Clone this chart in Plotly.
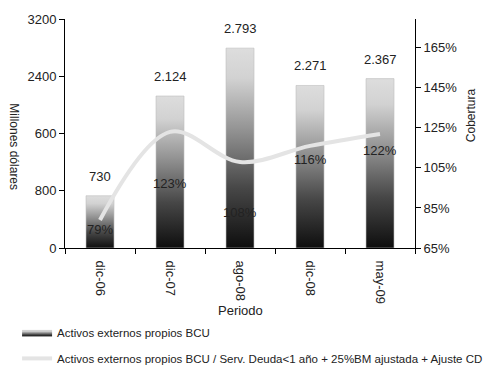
import plotly.graph_objects as go

# Data
periodos = ["dic-06", "dic-07", "ago-08", "dic-08", "may-09"]
activos = [730, 2124, 2793, 2271, 2367]            # millones de dólares
activos_txt = ["730", "2.124", "2.793", "2.271", "2.367"]
cobertura = [79, 123, 108, 116, 122]               # %
cobertura_txt = ["79%", "123%", "108%", "116%", "122%"]

y_tickvals = [0, 800, 1600, 2400, 3200]
y_ticktext = ["0", "800", "600", "2400", "3200"]
y2_tickvals = [65, 85, 105, 125, 145, 165]
y2_ticktext = ["65%", "85%", "105%", "125%", "145%", "165%"]

# vertical pixel offsets of the coverage labels relative to their value
cob_label_shift = [-10, -52, -51, -14, -17]

FONT = "Liberation Sans Narrow, Arial Narrow, Liberation Sans, sans-serif"
BAR_HALF = 0.2
GRAD = [[0, "#0e0e0e"], [0.3, "#474747"], [0.6, "#959595"],
        [0.85, "#d2d2d2"], [1, "#dddddd"]]

fig = go.Figure()

# gradient-filled bars
for i, v in enumerate(activos):
    fig.add_trace(go.Scatter(
        x=[i - BAR_HALF, i + BAR_HALF, i + BAR_HALF, i - BAR_HALF, i - BAR_HALF],
        y=[0, 0, v, v, 0],
        mode="lines", line=dict(width=1, color="rgba(190,190,190,0.6)"),
        fill="toself",
        fillgradient=dict(type="vertical", colorscale=GRAD),
        name="Activos externos propios BCU",
        legendgroup="bcu", showlegend=(i == 0),
        hoverinfo="skip",
    ))

# coverage line
fig.add_trace(go.Scatter(
    x=list(range(len(periodos))), y=cobertura, yaxis="y2",
    mode="lines", line=dict(color="#e4e4e4", width=4, shape="spline", smoothing=1),
    name="Activos externos propios BCU / Serv. Deuda<1 año + 25%BM ajustada + Ajuste CD",
    hoverinfo="skip",
))

# value labels
for i, (v, t) in enumerate(zip(activos, activos_txt)):
    fig.add_annotation(x=i, y=v, text=t, showarrow=False, yanchor="bottom",
                       yshift=10, font=dict(size=13, color="#222"))
for i, (c, t, s) in enumerate(zip(cobertura, cobertura_txt, cob_label_shift)):
    fig.add_annotation(x=i, y=c, yref="y2", text=t, showarrow=False,
                       yshift=s, font=dict(size=13, color="#222"))

# axis titles
fig.add_annotation(x=-0.146, y=0.44, xref="paper", yref="paper", text="Millones dólares",
                   xanchor="center", yanchor="middle",
                   textangle=90, showarrow=False, font=dict(size=12, color="#222"))
fig.add_annotation(x=1.16, y=0.58, xref="paper", yref="paper", text="Cobertura",
                   xanchor="center", yanchor="middle",
                   textangle=-90, showarrow=False, font=dict(size=12, color="#222"))
fig.add_annotation(x=0.5, y=-0.272, xref="paper", yref="paper", text="Periodo",
                   xanchor="center", yanchor="middle",
                   showarrow=False, font=dict(size=13, color="#222"))

fig.update_layout(
    width=488, height=374,
    margin=dict(l=65, r=73, t=19, b=126, autoexpand=False),
    paper_bgcolor="white", plot_bgcolor="white",
    font=dict(family=FONT, size=12, color="#222"),
    xaxis=dict(
        range=[-0.5, 4.5], tickvals=list(range(len(periodos))), ticktext=periodos,
        tickangle=90, ticks="", showgrid=False, zeroline=False, automargin=False,
        showline=True, linecolor="#000", linewidth=1, ticklabelstandoff=9,
        minor=dict(ticks="outside", tick0=-0.5, dtick=1, ticklen=5, tickcolor="#000", showgrid=False),
        tickfont=dict(size=13),
    ),
    yaxis=dict(
        range=[0, 3200], tickvals=y_tickvals, ticktext=y_ticktext, automargin=False,
        ticks="outside", ticklen=5, tickcolor="#000", showgrid=False, zeroline=False,
        showline=True, linecolor="#000", linewidth=1, tickfont=dict(size=13),
    ),
    yaxis2=dict(
        overlaying="y", side="right", range=[65, 179.4], automargin=False,
        tickvals=y2_tickvals, ticktext=y2_ticktext,
        ticks="outside", ticklen=5, tickcolor="#000", showgrid=False, zeroline=False,
        showline=True, linecolor="#000", linewidth=1, tickfont=dict(size=13),
    ),
    legend=dict(xref="container", yref="container", x=0.035, y=0.15,
                xanchor="left", yanchor="top",
                bgcolor="rgba(0,0,0,0)", font=dict(size=11.5), tracegroupgap=7,
                itemwidth=30),
    showlegend=True,
)

fig.write_html("out.html")
